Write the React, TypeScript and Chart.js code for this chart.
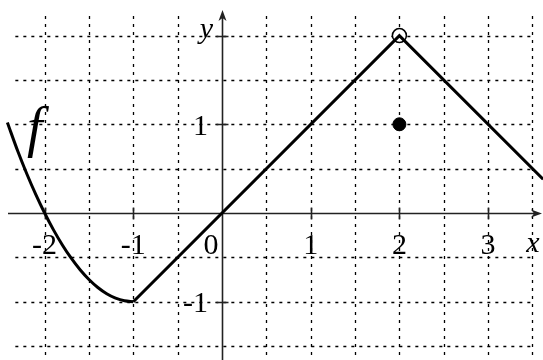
import React, { useEffect, useRef } from "react";
import { Chart, registerables } from "chart.js";

Chart.register(...registerables);

// Axis window (data units)
const xMin = -2.503;
const xMax = 3.619;
const yMin = -1.657;
const yMax = 2.401;

// Dotted grid
const gridXs = [-2, -1.5, -1, -0.5, 0, 0.5, 1, 1.5, 2, 2.5, 3, 3.5];
const gridYs = [-1.5, -1, -0.5, 0, 0.5, 1, 1.5, 2];
const gridLeft = -2.33;
const gridRight = 3.5;
const gridTop = 2.22;

// Tick labels
const xTicks = [-2, -1, 1, 2, 3];
const xTickLabels = ["-2", "-1", "1", "2", "3"];
const yTicks = [-1, 1, 2];
const yTickLabels = ["-1", "1", ""];

// f: curved part (x <= -1)
const curveX = [-2.42, -2.3, -2.2, -2.1, -2, -1.9, -1.8, -1.7, -1.6, -1.5, -1.4, -1.3, -1.2, -1.1, -1];
const curveY = [1.02, 0.69, 0.44, 0.21, 0, -0.19, -0.36, -0.51, -0.64, -0.75, -0.84, -0.91, -0.96, -0.99, -1];

// f: straight parts
const lineX = [-1, 2, 3.62];
const lineY = [-1, 2, 0.38];

// special points
const openPt = { x: 2, y: 2 };
const filledPt = { x: 2, y: 1 };

const SERIF = "'Liberation Serif', 'Times New Roman', serif";

const axesPlugin = {
  id: "mathAxes",
  beforeDatasetsDraw(chart: any) {
    const ctx = chart.ctx;
    const xs = chart.scales.x;
    const ys = chart.scales.y;
    const px = (v: number) => xs.getPixelForValue(v);
    const py = (v: number) => ys.getPixelForValue(v);
    ctx.save();
    // grid
    ctx.strokeStyle = "#000";
    ctx.lineWidth = 1.3;
    ctx.setLineDash([3, 5]);
    for (const gx of gridXs) {
      if (gx === 0) continue;
      const X = Math.round(px(gx)) + 0.5;
      ctx.beginPath();
      ctx.moveTo(X, py(gridTop));
      ctx.lineTo(X, chart.height);
      ctx.stroke();
    }
    for (const gy of gridYs) {
      if (gy === 0) continue;
      const Y = Math.round(py(gy)) + 0.5;
      ctx.beginPath();
      ctx.moveTo(px(gridLeft), Y);
      ctx.lineTo(px(gridRight), Y);
      ctx.stroke();
    }
    ctx.setLineDash([]);
    // axes
    const ox = Math.round(px(0)) + 0.5;
    const oy = Math.round(py(0)) + 0.5;
    ctx.strokeStyle = "#222";
    ctx.lineWidth = 1.6;
    ctx.beginPath();
    ctx.moveTo(8, oy);
    ctx.lineTo(536, oy);
    ctx.moveTo(ox, chart.height);
    ctx.lineTo(ox, 17);
    ctx.stroke();
    // arrows
    ctx.fillStyle = "#222";
    ctx.beginPath();
    ctx.moveTo(542, oy);
    ctx.lineTo(531, oy - 4);
    ctx.lineTo(534, oy);
    ctx.lineTo(531, oy + 4);
    ctx.closePath();
    ctx.fill();
    ctx.beginPath();
    ctx.moveTo(ox, 10);
    ctx.lineTo(ox - 4, 21);
    ctx.lineTo(ox, 18);
    ctx.lineTo(ox + 4, 21);
    ctx.closePath();
    ctx.fill();
    // major ticks
    ctx.lineWidth = 1.6;
    ctx.beginPath();
    for (const t of xTicks) {
      const X = Math.round(px(t)) + 0.5;
      ctx.moveTo(X, oy - 6);
      ctx.lineTo(X, oy + 6);
    }
    for (const t of yTicks) {
      const Y = Math.round(py(t)) + 0.5;
      ctx.moveTo(ox - 6, Y);
      ctx.lineTo(ox + 6, Y);
    }
    ctx.stroke();
    ctx.restore();
  },
  afterDatasetsDraw(chart: any) {
    const ctx = chart.ctx;
    const xs = chart.scales.x;
    const ys = chart.scales.y;
    const px = (v: number) => xs.getPixelForValue(v);
    const py = (v: number) => ys.getPixelForValue(v);
    const ox = px(0);
    const oy = py(0);
    ctx.save();
    ctx.fillStyle = "#000";
    ctx.font = "30px " + SERIF;
    ctx.textBaseline = "alphabetic";
    ctx.textAlign = "center";
    xTicks.forEach((t, i) => {
      ctx.fillText(xTickLabels[i], px(t), oy + 41);
    });
    ctx.fillText("0", ox - 11, oy + 41);
    ctx.textAlign = "right";
    yTicks.forEach((t, i) => {
      if (yTickLabels[i]) ctx.fillText(yTickLabels[i], ox - 14, py(t) + 10.5);
    });
    ctx.font = "italic 30px " + SERIF;
    ctx.textAlign = "right";
    ctx.fillText("y", ox - 9, 38);
    ctx.textAlign = "center";
    ctx.fillText("x", 533, oy + 39);
    ctx.font = "italic 56px " + SERIF;
    ctx.textAlign = "left";
    ctx.fillText("f", 27, 146);
    ctx.restore();
  },
};

export default function App() {
  const ref = useRef<HTMLCanvasElement | null>(null);
  useEffect(() => {
    if (!ref.current) return;
    const chart = new Chart(ref.current, {
      type: "scatter",
      data: {
        datasets: [
          {
            data: curveX.map((x, i) => ({ x, y: curveY[i] })),
            showLine: true,
            borderColor: "#000",
            borderWidth: 3,
            pointRadius: 0,
            cubicInterpolationMode: "monotone",
          },
          {
            data: lineX.map((x, i) => ({ x, y: lineY[i] })),
            showLine: true,
            borderColor: "#000",
            borderWidth: 3,
            pointRadius: 0,
          },
          {
            data: [openPt],
            pointRadius: 7,
            pointBackgroundColor: "#fff",
            pointBorderColor: "#000",
            pointBorderWidth: 1.5,
          },
          {
            data: [filledPt],
            pointRadius: 6.5,
            pointBackgroundColor: "#000",
            pointBorderColor: "#000",
            pointBorderWidth: 1,
          },
        ],
      } as any,
      options: {
        animation: false,
        responsive: false,
        maintainAspectRatio: false,
        layout: { padding: 0, autoPadding: false },
        plugins: { legend: { display: false }, tooltip: { enabled: false } },
        scales: {
          x: { type: "linear", min: xMin, max: xMax, display: false },
          y: { type: "linear", min: yMin, max: yMax, display: false },
        },
      } as any,
      plugins: [axesPlugin],
    });
    let alive = true;
    if ((document as any).fonts) {
      Promise.all([
        (document as any).fonts.load("30px 'Liberation Serif'"),
        (document as any).fonts.load("italic 30px 'Liberation Serif'"),
      ]).then(() => {
        if (alive) chart.update();
      }).catch(() => {});
    }
    return () => {
      alive = false;
      chart.destroy();
    };
  }, []);
  return (
    <div style={{ position: "fixed", left: 0, top: 0, width: 543, height: 360, background: "#fff" }}>
      <canvas ref={ref} width={543} height={360} style={{ display: "block" }} />
    </div>
  );
}
